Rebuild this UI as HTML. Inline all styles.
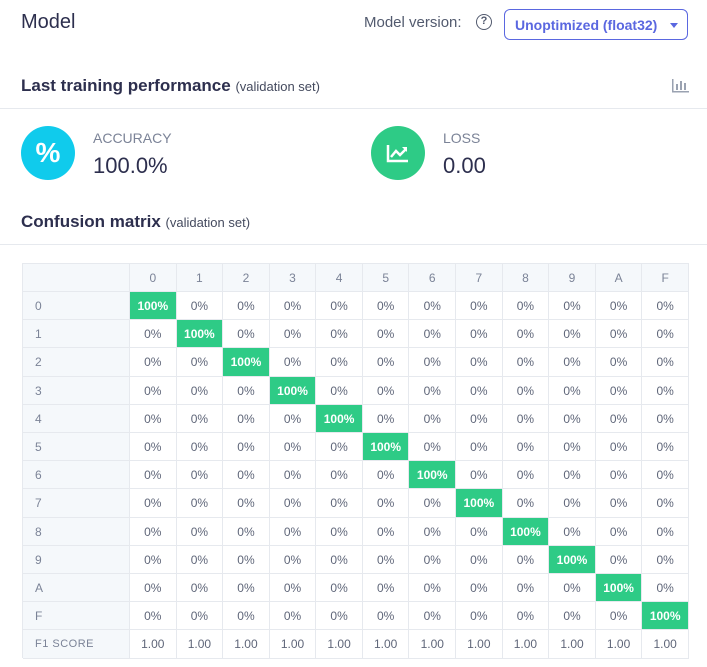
<!DOCTYPE html>
<html><head><meta charset="utf-8">
<style>
*{box-sizing:border-box;margin:0;padding:0}
body{width:707px;height:667px;background:#fff;font-family:"Liberation Sans",sans-serif;position:relative;overflow:hidden;color:#2d2f4e}
.abs{position:absolute}
.h1{left:21px;top:11px;font-size:20px;color:#2d2f4e}
.ver{left:364px;top:14px;font-size:15px;color:#525a6e}
.q{left:476px;top:14px;width:16px;height:16px;border:1.6px solid #525a6e;border-radius:50%;font-size:11px;font-weight:bold;text-align:center;line-height:13px;color:#525a6e}
.sel{left:504px;top:9px;width:184px;height:31px;border:1px solid #5a67e0;border-radius:6px;color:#5a67e0;font-size:14px;font-weight:bold;padding:7px 0 0 10px}
.sel:after{content:"";position:absolute;right:9px;top:13px;border:4.5px solid transparent;border-top:5px solid #5a67e0}
.sec{font-size:17px;font-weight:bold;color:#2d2f4e}
.sec small{font-size:13px;font-weight:normal;color:#444a5e}
.line{left:0;width:707px;height:1px;background:#e6e9ee}
.circ{width:54px;height:54px;border-radius:50%;color:#fff;text-align:center}
.lbl{font-size:14px;color:#7b8397}
.val{font-size:22px;color:#2d2f4e}
.cell{position:absolute;border-right:1px solid #e6e9ee;border-bottom:1px solid #e6e9ee;font-size:12px;color:#5f6679;text-align:center}
</style></head><body>
<div class="abs h1">Model</div>
<div class="abs ver">Model version:</div>
<div class="abs q">?</div>
<div class="abs sel">Unoptimized (float32)</div>
<div class="abs sec" style="left:21px;top:76px">Last training performance <small>(validation set)</small></div>
<svg class="abs" style="left:672px;top:79px" width="17" height="14"><g fill="#9aa2b1"><rect x="0" y="0" width="1.5" height="13"/><rect x="0" y="12" width="17" height="1.5"/><rect x="4" y="5" width="2" height="6"/><rect x="8" y="2" width="2" height="9"/><rect x="12" y="4" width="2" height="7"/></g></svg>
<div class="abs line" style="top:108px"></div>
<div class="abs circ" style="left:21px;top:126px;background:#10cbec;font-size:28px;font-weight:bold;line-height:54px">%</div>
<div class="abs lbl" style="left:93px;top:130px">ACCURACY</div>
<div class="abs val" style="left:93px;top:153px">100.0%</div>
<div class="abs circ" style="left:371px;top:126px;background:#2ecb86"><svg width="54" height="54"><path d="M17 19V35H37" stroke="#fff" stroke-width="2.5" fill="none"/><path d="M20 31L25 25L29 29L35 23" stroke="#fff" stroke-width="2.5" fill="none"/><path d="M31 21H36V26Z" fill="#fff"/></svg></div>
<div class="abs lbl" style="left:443px;top:130px">LOSS</div>
<div class="abs val" style="left:443px;top:153px">0.00</div>
<div class="abs sec" style="left:21px;top:212px">Confusion matrix <small>(validation set)</small></div>
<div class="abs line" style="top:244px"></div>
<div id="tbl" class="abs" style="left:22px;top:263px;width:667px;height:395px;border-left:1px solid #e6e9ee;border-top:1px solid #e6e9ee"></div>
<script>
const classes=["0","1","2","3","4","5","6","7","8","9","A","F"];
const matrix=classes.map((r,i)=>classes.map((c,j)=>i===j?100:0));
const f1=[1,1,1,1,1,1,1,1,1,1,1,1];
const tbl=document.getElementById('tbl');
const labW=107,colW=46.58,rowH=28.2,top0=28;
function cell(x,y,w,h,txt,style,name){
  const d=document.createElement('div');d.className='cell';
  
  
  d.style.left=x+'px';d.style.top=y+'px';d.style.width=w+'px';d.style.height=h+'px';d.style.lineHeight=h+'px';
  Object.assign(d.style,style||{});d.textContent=txt;tbl.appendChild(d);
}
const hdr={background:'#f5f8fb',color:'#7b8397'};
cell(0,0,labW,top0,'',hdr,'header-corner');
classes.forEach((c,j)=>cell(labW+j*colW,0,colW,top0,c,hdr,'column-header'));
classes.forEach((r,i)=>{
  const y=top0+i*rowH;
  cell(0,y,labW,rowH,r,Object.assign({textAlign:'left',paddingLeft:'12px'},hdr),'row-header');
  matrix[i].forEach((v,j)=>{
    const st=v>0?{background:'#2ecb86',color:'#fff',fontWeight:'bold'}:{};
    cell(labW+j*colW,y,colW,rowH,v+'%',st,'matrix-cell');
  });
});
const yf=top0+classes.length*rowH;
cell(0,yf,labW,rowH,'F1 SCORE',Object.assign({textAlign:'left',paddingLeft:'12px',fontSize:'11px',letterSpacing:'0.5px'},hdr),'f1-score-label');
f1.forEach((v,j)=>cell(labW+j*colW,yf,colW,rowH,v.toFixed(2),{},'f1-score-cell'));
</script>
</body></html>
